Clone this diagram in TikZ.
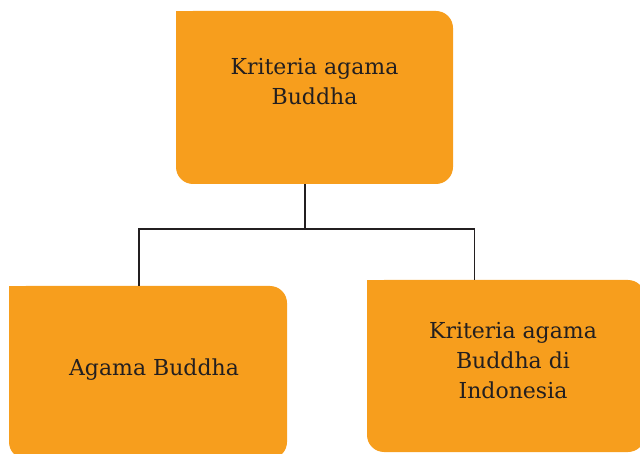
\documentclass[tikz,border=0pt]{standalone}
\usepackage{fontspec}
\setmainfont{DejaVu Serif}
\definecolor{borange}{HTML}{F79E1D}
\definecolor{ink}{HTML}{231F20}
\tikzset{
  box/.style={fill=borange, rounded corners=17pt, inner sep=0pt, draw=none},
  lbl/.style={text=ink, align=center, inner sep=0pt, font=\fontsize{22pt}{30pt}\selectfont},
  conn/.style={draw=ink, line width=1.9pt}
}
\begin{document}
\begin{tikzpicture}[x=1pt,y=1pt]
\useasboundingbox (0,0) rectangle (640,453);
% boxes
\node[box, minimum width=277pt, minimum height=173pt] (top) at (314.5,355.5) {};
\fill[borange] (top.north west) rectangle ++(20pt,-20pt);
\node[box, minimum width=278pt, minimum height=173pt] (left) at (148,80.5) {};
\fill[borange] (left.north west) rectangle ++(20pt,-20pt);
\node[box, minimum width=278pt, minimum height=172pt] (right) at (506,87) {};
\fill[borange] (right.north west) rectangle ++(20pt,-20pt);
% texts
\node[lbl] (ttop) at (314.5,371) {Kriteria agama\\Buddha};
\node[lbl] (tleft) at (154,83) {Agama Buddha};
\node[lbl] (tright) at (513,92) {Kriteria agama\\Buddha di\\Indonesia};
% connectors
\coordinate (j) at (305,224);
\coordinate (jl) at (139,224);
\coordinate (jr) at (474.5,224);
\draw[conn] (j |- top.south) -- (j);
\draw[conn] (jl |- left.north) -- (jl) -- (jr) -- (jr |- right.north);
\end{tikzpicture}
\end{document}
